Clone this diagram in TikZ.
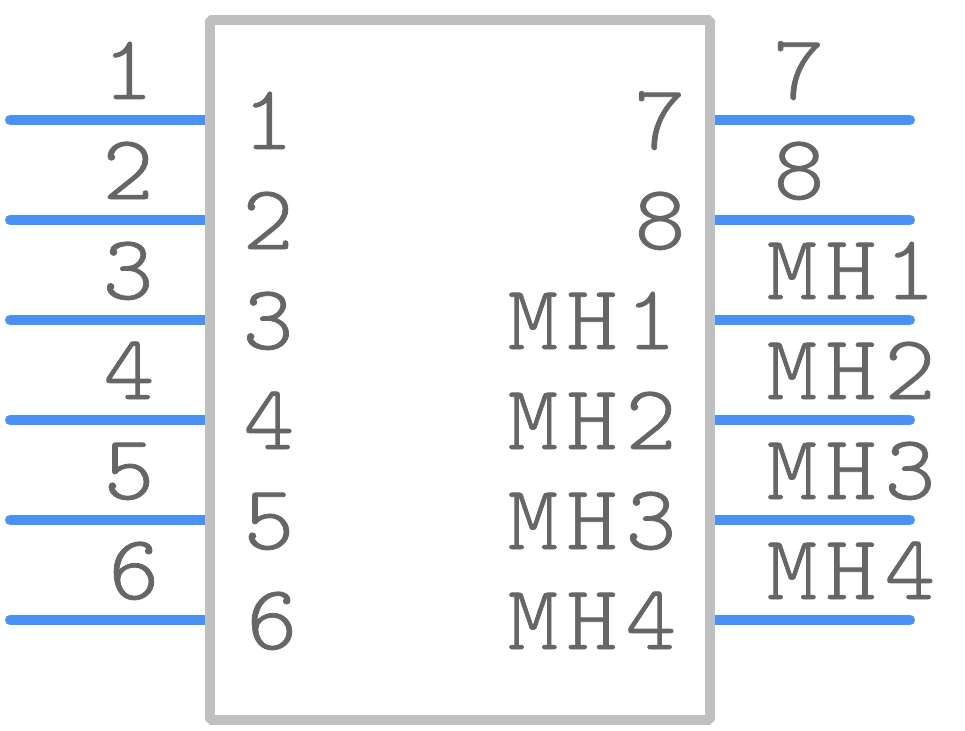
\documentclass[tikz,border=0pt]{standalone}
\usepackage{fontspec}
\usetikzlibrary{backgrounds}
\setmainfont[FakeStretch=1.05,LetterSpace=9,FakeBold=0.8]{Latin Modern Mono Light}
\definecolor{bodygray}{HTML}{BFBFBF}
\definecolor{pinblue}{HTML}{4891FA}
\definecolor{textgray}{HTML}{666666}
\tikzset{
    pinline/.style={draw=pinblue,line width=10pt,line cap=round},
    bodybox/.style={draw=bodygray,line width=10pt,line join=bevel,minimum width=500pt,minimum height=700pt,inner sep=0pt,outer sep=0pt},
    pinlabel/.style={text=textgray,inner sep=0pt,anchor=base,font=\fontsize{92}{96}\selectfont},
}
\begin{document}
\begin{tikzpicture}[x=1pt,y=-1pt]
    \useasboundingbox (0,0) rectangle (965,730);

    % free ends of the pins
    \coordinate (p1) at (10,120);
    \coordinate (p2) at (10,220);
    \coordinate (p3) at (10,320);
    \coordinate (p4) at (10,420);
    \coordinate (p5) at (10,520);
    \coordinate (p6) at (10,620);
    \coordinate (p7) at (910,120);
    \coordinate (p8) at (910,220);
    \coordinate (pm1) at (910,320);
    \coordinate (pm2) at (910,420);
    \coordinate (pm3) at (910,520);
    \coordinate (pm4) at (910,620);

    \node[bodybox] (body) at (460,370) {};

    % pins go under the body
    \begin{scope}[on background layer]
        \draw[pinline] (p1) -- (p1 -| body.west);
        \draw[pinline] (p2) -- (p2 -| body.west);
        \draw[pinline] (p3) -- (p3 -| body.west);
        \draw[pinline] (p4) -- (p4 -| body.west);
        \draw[pinline] (p5) -- (p5 -| body.west);
        \draw[pinline] (p6) -- (p6 -| body.west);
        \draw[pinline] (p7) -- (p7 -| body.east);
        \draw[pinline] (p8) -- (p8 -| body.east);
        \draw[pinline] (pm1) -- (pm1 -| body.east);
        \draw[pinline] (pm2) -- (pm2 -| body.east);
        \draw[pinline] (pm3) -- (pm3 -| body.east);
        \draw[pinline] (pm4) -- (pm4 -| body.east);
    \end{scope}

    % pin numbers outside the body
    \node[pinlabel] (out1) at (128,99) {1};
    \node[pinlabel] (out2) at (128,199) {2};
    \node[pinlabel] (out3) at (128,299) {3};
    \node[pinlabel] (out4) at (129,399) {4};
    \node[pinlabel] (out5) at (129,499) {5};
    \node[pinlabel] (out6) at (134,599) {6};
    \node[pinlabel] (out7) at (799,99) {7};
    \node[pinlabel] (out8) at (799,199) {8};
    \node[pinlabel] (outm1) at (851,299) {MH1};
    \node[pinlabel] (outm2) at (851,399) {MH2};
    \node[pinlabel] (outm3) at (851,499) {MH3};
    \node[pinlabel] (outm4) at (851,599) {MH4};

    % pin names inside the body
    \node[pinlabel] (in1) at (268,149) {1};
    \node[pinlabel] (in2) at (268,249) {2};
    \node[pinlabel] (in3) at (268,349) {3};
    \node[pinlabel] (in4) at (269,449) {4};
    \node[pinlabel] (in5) at (269,549) {5};
    \node[pinlabel] (in6) at (272,649) {6};
    \node[pinlabel] (in7) at (660,149) {7};
    \node[pinlabel] (in8) at (660,249) {8};
    \node[pinlabel] (inm1) at (592,349) {MH1};
    \node[pinlabel] (inm2) at (592,449) {MH2};
    \node[pinlabel] (inm3) at (592,549) {MH3};
    \node[pinlabel] (inm4) at (592,649) {MH4};
\end{tikzpicture}
\end{document}
